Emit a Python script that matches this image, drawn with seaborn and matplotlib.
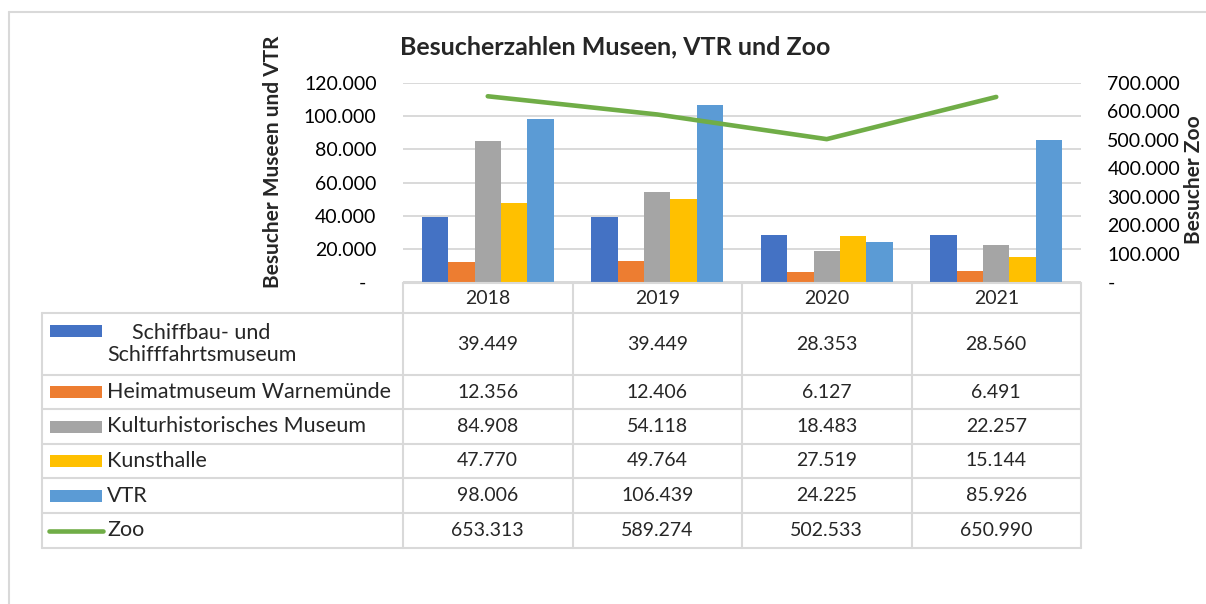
import numpy as np
import pandas as pd
import seaborn as sns
import matplotlib.pyplot as plt
from matplotlib.lines import Line2D
from matplotlib.patches import Rectangle
from matplotlib.ticker import FuncFormatter, MultipleLocator
import matplotlib.transforms as mtrans

# Daten
jahre = ["2018", "2019", "2020", "2021"]
einrichtungen = ["Schiffbau- und Schifffahrtsmuseum", "Heimatmuseum Warnemünde",
                 "Kulturhistorisches Museum", "Kunsthalle", "VTR"]
tabellen_namen = ["Schiffbau- und\nSchifffahrtsmuseum", "Heimatmuseum Warnemünde",
                  "Kulturhistorisches Museum", "Kunsthalle", "VTR", "Zoo"]
schiffbau = [39449, 39449, 28353, 28560]
heimatmuseum = [12356, 12406, 6127, 6491]
kulturhistorisch = [84908, 54118, 18483, 22257]
kunsthalle = [47770, 49764, 27519, 15144]
vtr = [98006, 106439, 24225, 85926]
zoo = [653313, 589274, 502533, 650990]

farben = ["#4472C4", "#ED7D31", "#A5A5A5", "#FFC000", "#5B9BD5"]
farbe_zoo = "#70AD47"
gitter = "#D9D9D9"

werte = [schiffbau, heimatmuseum, kulturhistorisch, kunsthalle, vtr]
df = pd.DataFrame([(j, e, w[i]) for e, w in zip(einrichtungen, werte)
                   for i, j in enumerate(jahre)],
                  columns=["Jahr", "Einrichtung", "Besucher"])


def punkte(v):
    """Zahl mit deutschem Tausendertrenner"""
    return f"{int(v):,}".replace(",", ".")


sns.set_style("white")
plt.rcParams['font.family'] = ['Lato', 'DejaVu Sans']

W, H = 1206, 604
fx = lambda p: p / W
fy = lambda p: 1 - p / H

fig = plt.figure(figsize=(W / 100, H / 100), dpi=100)
ax = fig.add_axes([fx(403), fy(282), fx(1081) - fx(403), fy(83) - fy(282)])

sns.barplot(data=df, x="Jahr", y="Besucher", hue="Einrichtung", hue_order=einrichtungen,
            palette=farben, saturation=1, width=0.78, linewidth=0, ax=ax, legend=False)
ax.set_ylim(0, 120000)
ax.yaxis.set_major_locator(MultipleLocator(20000))
ax.yaxis.set_major_formatter(FuncFormatter(lambda v, p: "-  " if v == 0 else punkte(v)))
ax.yaxis.grid(True, color=gitter, lw=1.4)
ax.set_axisbelow(True)
ax.tick_params(axis="y", length=0, pad=19, labelsize=14, labelcolor="black")
ax.tick_params(axis="x", length=0, labelbottom=False)
ax.set_xlabel("")
ax.set_ylabel("")
for s in ax.spines.values():
    s.set_visible(False)

# Zoo auf zweiter Achse
ax2 = ax.twinx()
sns.lineplot(x=np.arange(len(jahre)), y=zoo, ax=ax2, color=farbe_zoo, lw=3.3,
             solid_capstyle="round")
ax2.set_ylim(0, 700000)
ax2.yaxis.set_major_locator(MultipleLocator(100000))
ax2.yaxis.set_major_formatter(FuncFormatter(lambda v, p: "-" if v == 0 else punkte(v)))
ax2.tick_params(axis="y", length=0, pad=19, labelsize=14, labelcolor="black")
ax2.grid(False)
for s in ax2.spines.values():
    s.set_visible(False)
ax.set_xlim(-0.5, len(jahre) - 0.5)

# Titel und Achsenbeschriftungen
fig.text(fx(615), fy(47), "Besucherzahlen Museen, VTR und Zoo", ha="center", va="center",
         fontsize=18, fontweight="bold")
fig.text(fx(273), fy(162), "Besucher Museen und VTR", rotation=90, ha="center", va="center",
         fontsize=15, fontweight="bold")
fig.text(fx(1194), fy(180), "Besucher Zoo", rotation=90, ha="center", va="center",
         fontsize=15, fontweight="bold")

# Rahmen
fig.add_artist(Line2D([fx(9), 1.01], [fy(12), fy(12)], color=gitter, lw=1.5))
fig.add_artist(Line2D([fx(9), fx(9)], [fy(12), -0.01], color=gitter, lw=1.5))

# Datentabelle
blend = mtrans.blended_transform_factory(ax.transData, fig.transFigure)
zeilen = [283, 313, 375, 409, 444, 478, 513, 548]
for k in range(len(jahre) + 1):
    fig.add_artist(Line2D([k - 0.5, k - 0.5], [fy(zeilen[0]), fy(zeilen[-1])],
                          transform=blend, color=gitter, lw=1.5))
fig.add_artist(Line2D([fx(42), fx(42)], [fy(zeilen[1]), fy(zeilen[-1])], color=gitter, lw=1.5))
fig.add_artist(Line2D([fx(403), fx(1081)], [fy(zeilen[0]), fy(zeilen[0])], color=gitter, lw=1.5))
for z in zeilen[1:]:
    fig.add_artist(Line2D([fx(42), fx(1081)], [fy(z), fy(z)], color=gitter, lw=1.5))

mitte_kopf = (zeilen[0] + zeilen[1]) / 2
for i, j in enumerate(jahre):
    fig.text(i, fy(mitte_kopf), j, transform=blend, ha="center", va="center", fontsize=14)

alle_werte = werte + [zoo]
for r, (name, reihe) in enumerate(zip(tabellen_namen, alle_werte)):
    mitte = (zeilen[r + 1] + zeilen[r + 2]) / 2
    for i, v in enumerate(reihe):
        fig.text(i, fy(mitte), punkte(v), transform=blend, ha="center", va="center", fontsize=14)
    fig.text(fx(107), fy(mitte), name, ha="left", va="center", multialignment="center",
             fontsize=15.5, linespacing=1.1)
    # Legendensymbol
    y_sym = mitte if r > 0 else 331
    if r < len(farben):
        fig.add_artist(Rectangle((fx(50), fy(y_sym + 6)), fx(102) - fx(50), 12 / H,
                                 facecolor=farben[r], edgecolor="none"))
    else:
        fig.add_artist(Line2D([fx(49), fx(103)], [fy(y_sym), fy(y_sym)], color=farbe_zoo,
                              lw=3.3, solid_capstyle="round"))

fig.savefig("out.png", dpi=100)
